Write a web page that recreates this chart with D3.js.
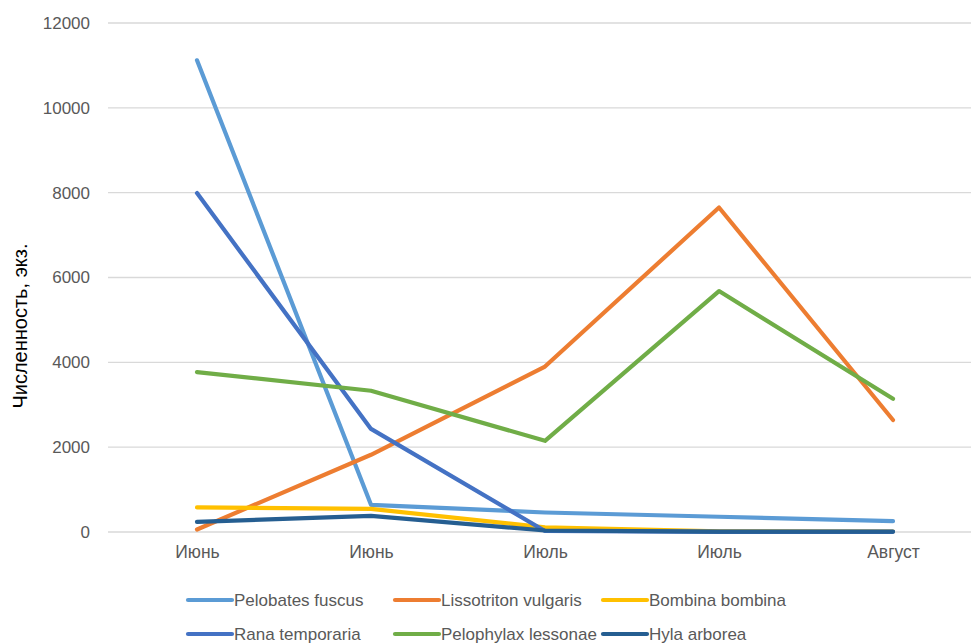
<!DOCTYPE html>
<html>
<head>
<meta charset="utf-8">
<script src="https://cdn.jsdelivr.net/npm/d3@7"></script>
<style>
  html, body { margin: 0; padding: 0; background: #fff; }
  svg { display: block; }
</style>
</head>
<body>
<svg id="chart" width="971" height="643"></svg>
<script>
// Month labels along the x axis (sampling dates)
const categories = ["Июнь", "Июнь", "Июль", "Июль", "Август"];
const yTicks = [0, 2000, 4000, 6000, 8000, 10000, 12000];

// Counts per species, individuals
const pelobatesFuscus     = [11120, 640, 460, 360, 255];
const lissotritonVulgaris = [60, 1820, 3900, 7650, 2640];
const bombinaBombina      = [580, 545, 110, 15, 10];
const ranaTemporaria      = [7990, 2430, 25, 5, 5];
const pelophylaxLessonae  = [3770, 3330, 2150, 5680, 3140];
const hylaArborea         = [240, 380, 35, 10, 10];

const seriesNames = ["Pelobates fuscus", "Lissotriton vulgaris", "Bombina bombina",
                     "Rana temporaria", "Pelophylax lessonae", "Hyla arborea"];
const seriesColors = ["#5B9BD5", "#ED7D31", "#FFC000", "#4472C4", "#70AD47", "#255E91"];
const seriesValues = [pelobatesFuscus, lissotritonVulgaris, bombinaBombina,
                      ranaTemporaria, pelophylaxLessonae, hylaArborea];

const series = seriesNames.map((name, i) => ({
  name, color: seriesColors[i], values: seriesValues[i]
}));

const svg = d3.select("#chart");
const font = "'Liberation Sans', Arial, sans-serif";

const x = d3.scalePoint()
  .domain(categories.map((_, i) => i))
  .range([110, 980])
  .padding(0.5);

const y = d3.scaleLinear()
  .domain([0, 12000])
  .range([532, 23]);

// Horizontal gridlines
svg.append("g")
  .selectAll("line")
  .data(yTicks)
  .join("line")
  .attr("x1", 108).attr("x2", 971)
  .attr("y1", d => y(d)).attr("y2", d => y(d))
  .attr("stroke", "#d9d9d9")
  .attr("stroke-width", 1.3);

// Y axis labels
const yAxis = d3.axisLeft(y).tickValues(yTicks).tickSize(0).tickPadding(0)
  .tickFormat(d3.format("d"));
svg.append("g")
  .attr("transform", "translate(90,0)")
  .call(yAxis)
  .call(g => g.select(".domain").remove())
  .call(g => g.selectAll("text")
    .attr("fill", "#595959")
    .attr("font-family", font)
    .attr("font-size", 17));

// X axis labels
const xAxis = d3.axisBottom(x).tickSize(0).tickPadding(0)
  .tickFormat(i => categories[i]);
svg.append("g")
  .attr("transform", "translate(0,546)")
  .call(xAxis)
  .call(g => g.select(".domain").remove())
  .call(g => g.selectAll("text")
    .attr("fill", "#595959")
    .attr("font-family", font)
    .attr("font-size", 17.5));

// Y axis title
svg.append("text")
  .attr("transform", "translate(27,326) rotate(-90)")
  .attr("text-anchor", "middle")
  .attr("font-family", font)
  .attr("font-size", 20)
  .attr("fill", "#000")
  .text("Численность, экз.");

// Series lines
const line = d3.line()
  .x((d, i) => x(i))
  .y(d => y(d));

svg.append("g")
  .selectAll("path")
  .data(series)
  .join("path")
  .attr("d", d => line(d.values))
  .attr("fill", "none")
  .attr("stroke", d => d.color)
  .attr("stroke-width", 4.2)
  .attr("stroke-linejoin", "round")
  .attr("stroke-linecap", "round");

// Legend: three columns, two rows
const legendCols = [188, 395, 603];
const legendRows = [600, 634];
const legend = svg.append("g")
  .selectAll("g")
  .data(series)
  .join("g")
  .attr("transform", (d, i) => `translate(${legendCols[i % 3]},${legendRows[Math.floor(i / 3)]})`);

legend.append("line")
  .attr("x1", 0).attr("x2", 44)
  .attr("y1", 0).attr("y2", 0)
  .attr("stroke", d => d.color)
  .attr("stroke-width", 4.2)
  .attr("stroke-linecap", "round");

legend.append("text")
  .attr("x", 46)
  .attr("y", 0)
  .attr("dy", "0.35em")
  .attr("font-family", font)
  .attr("font-size", 17)
  .attr("fill", "#595959")
  .text(d => d.name);
</script>
</body>
</html>
